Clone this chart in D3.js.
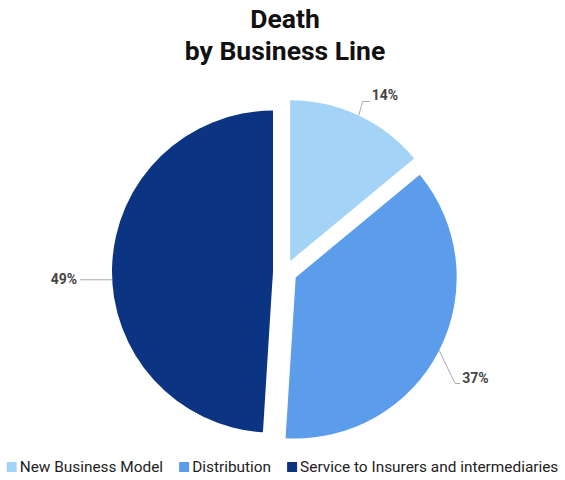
<!DOCTYPE html>
<html>
<head>
<meta charset="utf-8">
<script src="https://cdn.jsdelivr.net/npm/d3@7"></script>
<style>
  body { margin: 0; background: #fff; }
  svg { display: block; font-family: Roboto, "Noto Sans", sans-serif; }
</style>
</head>
<body>
<div id="chart"></div>
<script>
// data
const categories = ['New Business Model', 'Distribution', 'Service to Insurers and intermediaries']
const shares = [14, 37, 49]
const colors = ['#a3d4f7', '#5b9ceb', '#0b3583']
const titleLines = ['Death', 'by Business Line']

let width = 565
let height = 480
let cx = 285
let cy = 272
let radius = 161
let explode = 12

// leader layout per label: nudge of start angle (deg), elbow offset, tick length
let leaders = [
	{nudge: 0, dx: 4, dy: -14, tick: 7},
	{nudge: 0, dx: 16, dy: 33, tick: 5},
	{nudge: -4.7, dx: -32, dy: 0, tick: 0}
]

const svg = d3.select('#chart')
	.append('svg')
	.attr('width', width)
	.attr('height', height)

let title = svg.append('text')
	.attr('text-anchor', 'middle')
	.attr('font-weight', 'bold')
	.attr('font-size', 26.5)
	.attr('fill', '#111')

title.selectAll('tspan')
	.data(titleLines)
	.enter()
	.append('tspan')
	.attr('x', cx)
	.attr('y', (d, i) => 28 + i * 32)
	.text(d => d)

let pie = d3.pie().sort(null).value(d => d)
let arcs = pie(shares)

let arcGen = d3.arc().innerRadius(0).outerRadius(radius)

let offset = function(d){
	let a = (d.startAngle + d.endAngle) / 2
	return [Math.sin(a) * explode, -Math.cos(a) * explode]
}

let slices = svg.append('g')
	.attr('transform', `translate(${cx},${cy})`)

slices.selectAll('.slice')
	.data(arcs)
	.enter()
	.append('path')
	.attr('class', 'slice')
	.attr('transform', d => `translate(${offset(d)})`)
	.attr('d', arcGen)
	.attr('fill', (d, i) => colors[i])

// labels with leader lines
let labels = svg.append('g')
	.attr('transform', `translate(${cx},${cy})`)

arcs.forEach(function(d, i){
	let o = offset(d)
	let l = leaders[i]
	let a = (d.startAngle + d.endAngle) / 2 + l.nudge * Math.PI / 180
	let x1 = o[0] + Math.sin(a) * radius
	let y1 = o[1] - Math.cos(a) * radius
	let x2 = x1 + l.dx
	let y2 = y1 + l.dy
	let right = Math.sin(a) > 0
	let x3 = x2 + (right ? l.tick : -l.tick)

	labels.append('path')
		.attr('d', `M${x1},${y1}L${x2},${y2}L${x3},${y2}`)
		.attr('fill', 'none')
		.attr('stroke', '#aaa')
		.attr('stroke-width', 1)

	labels.append('text')
		.attr('x', x3 + (right ? 2 : -3))
		.attr('y', y2 + (i == 2 ? 4 : -1))
		.attr('text-anchor', right ? 'start' : 'end')
		.attr('font-size', 14)
		.attr('font-weight', 'bold')
		.attr('fill', '#444')
		.text(shares[i] + '%')
})

// legend
let legend = svg.append('g')

let items = legend.selectAll('.item')
	.data(categories)
	.enter()
	.append('g')
	.attr('class', 'item')

items.append('rect')
	.attr('width', 10)
	.attr('height', 10)
	.attr('y', 462)
	.attr('fill', (d, i) => colors[i])

items.append('text')
	.attr('x', 13)
	.attr('y', 472)
	.attr('font-size', 15.4)
	.attr('fill', '#222')
	.text(d => d)

let xPos = 0
items.each(function(){
	let w = 13 + d3.select(this).select('text').node().getComputedTextLength()
	d3.select(this).attr('transform', `translate(${xPos},0)`)
	xPos += w + 16
})
let total = xPos - 16
legend.attr('transform', `translate(${(width - total) / 2},0)`)
</script>
</body>
</html>
